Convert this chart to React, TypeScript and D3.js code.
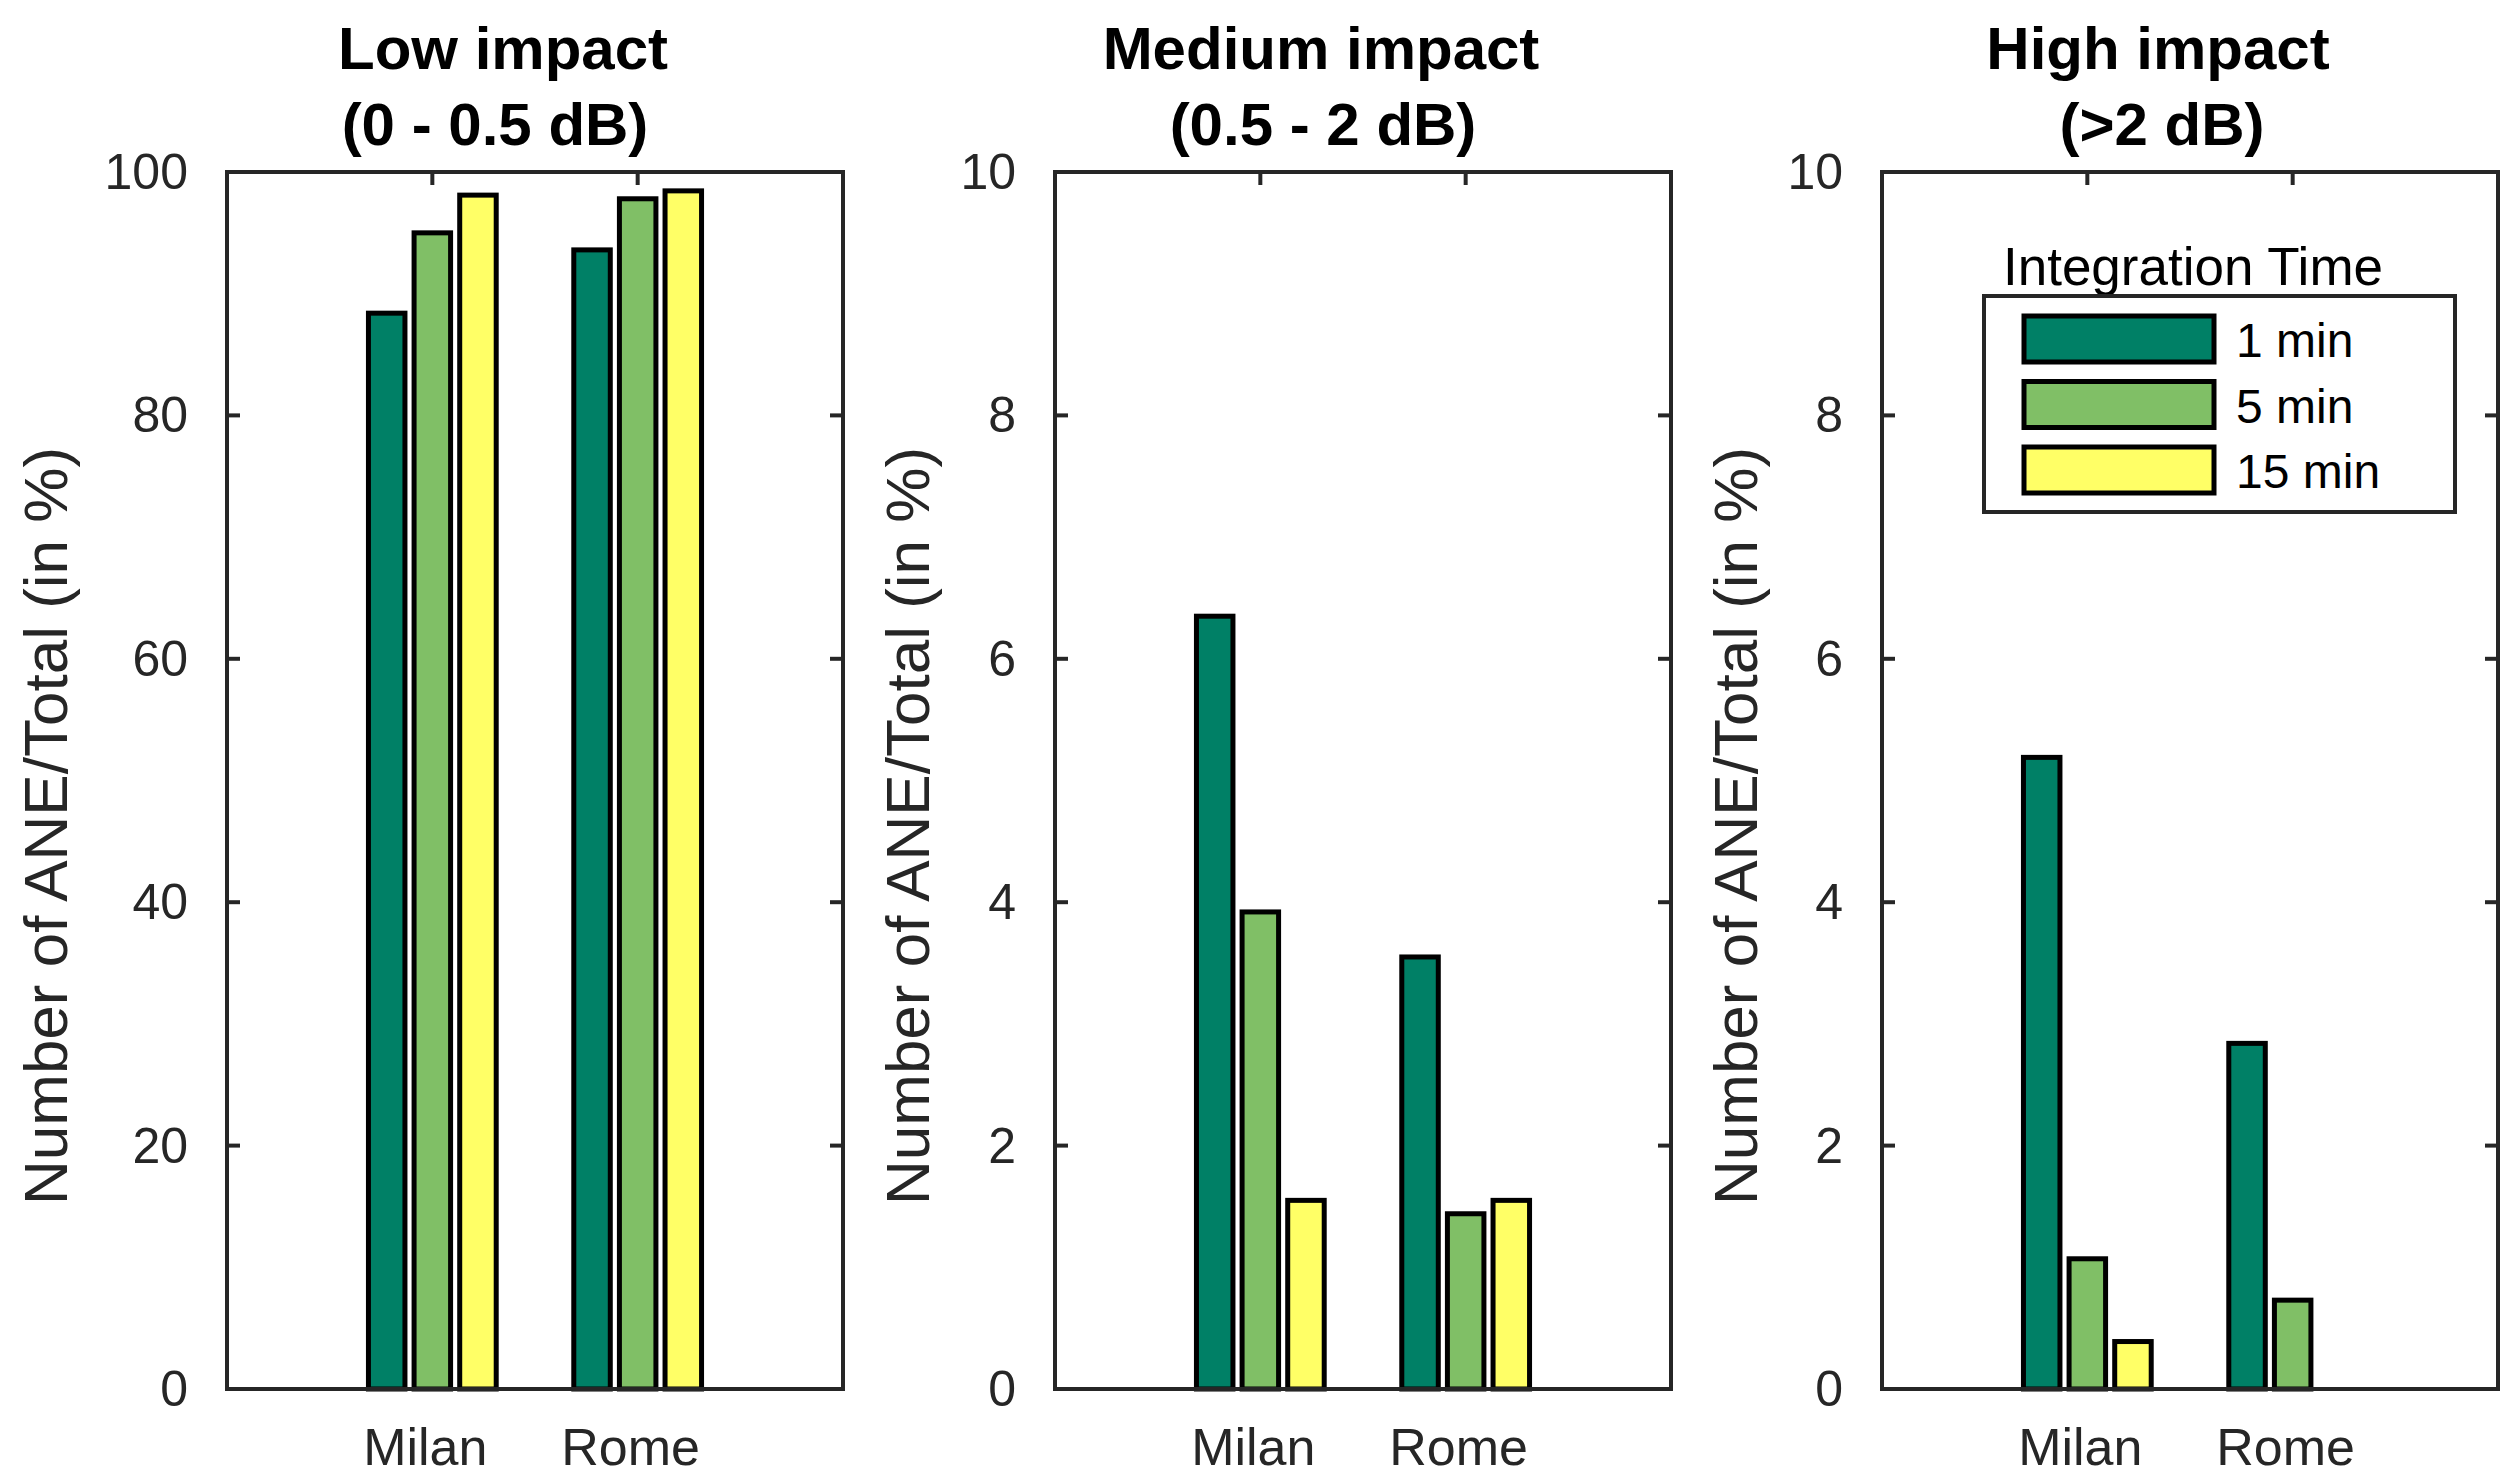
import React, { useRef, useEffect } from 'react';
import * as d3 from 'd3';

// categories and series
const cities = ['Milan', 'Rome'];
const times = ['1 min', '5 min', '15 min'];
const barColors = ['#008066', '#80BF66', '#FFFF66'];

// values per city, one entry per integration time (in %)
const lowImpact = [
  [88.4, 95.0, 98.1],
  [93.6, 97.8, 98.45],
];
const mediumImpact = [
  [6.35, 3.92, 1.55],
  [3.55, 1.44, 1.55],
];
const highImpact = [
  [5.19, 1.07, 0.39],
  [2.84, 0.73, 0],
];

const lowTicks = [0, 20, 40, 60, 80, 100];
const smallTicks = [0, 2, 4, 6, 8, 10];

const panelTitles = [
  ['Low impact', '(0 - 0.5 dB)'],
  ['Medium impact', '(0.5 - 2 dB)'],
  ['High impact', '(>2 dB)'],
];

const yLabel = 'Number of ANE/Total (in %)';
const legendTitle = 'Integration Time';

const FONT = 'Liberation Sans, Arial, Helvetica, sans-serif';
const AXIS = '#262626';

const App = () => {
  const svgRef = useRef(null);
  const width = 2520;
  const height = 1481;

  useEffect(() => {
    const svg = d3.select(svgRef.current)
      .attr('width', width)
      .attr('height', height);
    svg.selectAll('*').remove();

    svg.append('rect').attr('width', width).attr('height', height).attr('fill', '#fff');

    const panels = [
      { data: lowImpact, ticks: lowTicks, max: 100, left: 227, labelOff: 160, titleShift: [-32, -40] },
      { data: mediumImpact, ticks: smallTicks, max: 10, left: 1055, labelOff: 126, titleShift: [-42, -40] },
      { data: highImpact, ticks: smallTicks, max: 10, left: 1882, labelOff: 125, titleShift: [-32, -28] },
    ];
    const pw = 616;
    const top = 172;
    const bottom = 1389;

    panels.forEach((p, pi) => {
      const g = svg.append('g');
      const x = d3.scaleLinear().domain([0, 3]).range([p.left, p.left + pw]);
      const y = d3.scaleLinear().domain([0, p.max]).range([bottom, top]);

      // inward ticks (bottom/top, left/right)
      const tickLen = 13;
      [1, 2].forEach(c => {
        g.append('line').attr('x1', x(c)).attr('x2', x(c)).attr('y1', bottom).attr('y2', bottom - tickLen)
          .attr('stroke', AXIS).attr('stroke-width', 4);
        g.append('line').attr('x1', x(c)).attr('x2', x(c)).attr('y1', top).attr('y2', top + tickLen)
          .attr('stroke', AXIS).attr('stroke-width', 4);
      });
      p.ticks.forEach(t => {
        g.append('line').attr('x1', p.left).attr('x2', p.left + tickLen).attr('y1', y(t)).attr('y2', y(t))
          .attr('stroke', AXIS).attr('stroke-width', 4);
        g.append('line').attr('x1', p.left + pw).attr('x2', p.left + pw - tickLen).attr('y1', y(t)).attr('y2', y(t))
          .attr('stroke', AXIS).attr('stroke-width', 4);
        g.append('text')
          .attr('x', p.left - 39)
          .attr('y', y(t))
          .attr('text-anchor', 'end')
          .attr('dominant-baseline', 'central')
          .attr('font-family', FONT)
          .attr('font-size', 50)
          .attr('fill', AXIS)
          .text(t);
      });

      // grouped bars
      const step = 2 / 9;
      const bw = step * 0.8;
      p.data.forEach((vals, ci) => {
        vals.forEach((v, si) => {
          const cx = ci + 1 + (si - 1) * step;
          g.append('rect')
            .attr('x', x(cx - bw / 2))
            .attr('y', y(v))
            .attr('width', x(cx + bw / 2) - x(cx - bw / 2))
            .attr('height', y(0) - y(v))
            .attr('fill', barColors[si])
            .attr('stroke', '#000')
            .attr('stroke-width', 5);
        });
      });

      // axes box
      g.append('rect')
        .attr('x', p.left).attr('y', top)
        .attr('width', pw).attr('height', bottom - top)
        .attr('fill', 'none').attr('stroke', AXIS).attr('stroke-width', 4);

      // category labels
      cities.forEach((c, ci) => {
        g.append('text')
          .attr('x', x(ci + 1) - 7)
          .attr('y', 1465)
          .attr('text-anchor', 'middle')
          .attr('font-family', FONT)
          .attr('font-size', 52)
          .attr('fill', AXIS)
          .text(c);
      });

      // y label
      const ly = 826;
      const lx = p.left - p.labelOff;
      g.append('text')
        .attr('transform', `translate(${lx},${ly}) rotate(-90)`)
        .attr('text-anchor', 'middle')
        .attr('font-family', FONT)
        .attr('font-size', 62)
        .attr('fill', AXIS)
        .text(yLabel);

      // title
      panelTitles[pi].forEach((line, li) => {
        g.append('text')
          .attr('x', p.left + pw / 2 + p.titleShift[li])
          .attr('y', li === 0 ? 69 : 145)
          .attr('text-anchor', 'middle')
          .attr('font-family', FONT)
          .attr('font-size', 60)
          .attr('font-weight', 'bold')
          .attr('fill', '#000')
          .text(line);
      });
    });

    // legend in the last panel
    const lg = svg.append('g');
    lg.append('text')
      .attr('x', 2193).attr('y', 285)
      .attr('text-anchor', 'middle')
      .attr('font-family', FONT)
      .attr('font-size', 53)
      .attr('fill', '#000')
      .text(legendTitle);
    lg.append('rect')
      .attr('x', 1984).attr('y', 296).attr('width', 471).attr('height', 216)
      .attr('fill', '#fff').attr('stroke', AXIS).attr('stroke-width', 4);
    times.forEach((t, i) => {
      const ry = 316 + i * 65.5;
      lg.append('rect')
        .attr('x', 2024).attr('y', ry).attr('width', 190).attr('height', 46)
        .attr('fill', barColors[i]).attr('stroke', '#000').attr('stroke-width', 5);
      lg.append('text')
        .attr('x', 2236).attr('y', ry + 41)
        .attr('font-family', FONT)
        .attr('font-size', 48)
        .attr('fill', '#000')
        .text(t);
    });
  }, []);

  return <svg ref={svgRef} style={{ position: 'absolute', left: 0, top: 0 }}></svg>;
};

export default App;
